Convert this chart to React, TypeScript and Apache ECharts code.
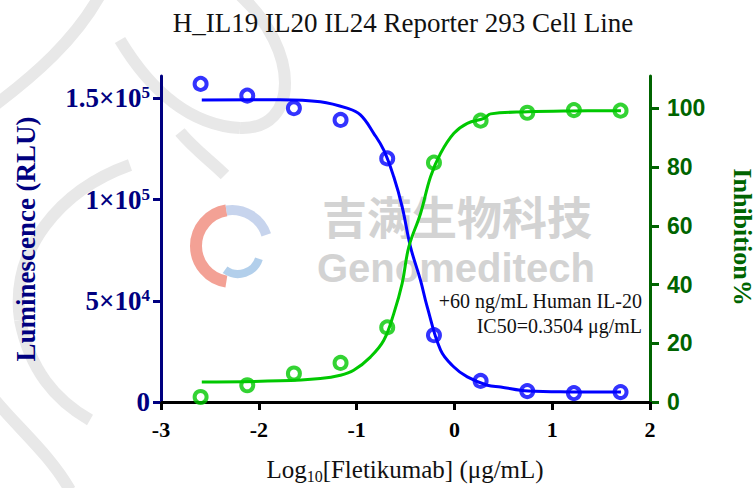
import React, { useEffect, useRef } from "react";
import * as echarts from "echarts";

// ---- data ----
const logConc = [-2.595, -2.118, -1.641, -1.164, -0.687, -0.209, 0.268, 0.745, 1.222, 1.699];
const luminescence = [157100, 151300, 145100, 139300, 120300, 33000, 10400, 5400, 4400, 4900];
const inhibition = [1.7, 5.7, 9.7, 13.3, 25.4, 81.5, 95.8, 98.5, 99.4, 99.2];

// fitted curves
const lumFitX = [-2.583, -1.781, -1.371, -1.097, -0.961, -0.825, -0.722, -0.62, -0.534, -0.449, -0.347, -0.278, -0.141, -0.005, 0.132, 0.337, 0.473, 0.757, 1.2, 1.703];
const lumFitY = [149200, 149300, 148300, 145100, 141800, 132700, 124400, 111200, 96400, 76600, 60200, 47000, 25600, 17300, 12400, 8300, 7400, 5400, 5000, 4900];
const inhFitX = [-2.583, -1.781, -1.371, -1.166, -1.03, -0.859, -0.722, -0.62, -0.534, -0.466, -0.346, -0.244, -0.141, -0.005, 0.132, 0.302, 0.371, 0.747, 1.2, 1.703];
const inhFitY = [6.8, 7.2, 8.0, 9.1, 10.8, 15.3, 21.0, 30.1, 40.4, 52.8, 64.2, 76.7, 84.7, 91.5, 94.9, 96.6, 98.1, 98.8, 99.1, 99.2];

const xTicks = [-3, -2, -1, 0, 1, 2];
const leftTickValues = [0, 50000, 100000, 150000];
const leftTickMantissa = ["0", "5", "1", "1.5"];
const leftTickExponent = ["", "4", "5", "5"];
const rightTickValues = [0, 20, 40, 60, 80, 100];

const titleText = "H_IL19 IL20 IL24 Reporter 293 Cell Line";
const noteLine1 = "+60 ng/mL Human IL-20";
const noteLine2 = "IC50=0.3504 μg/mL";

const SERIF = "'Liberation Serif', 'Times New Roman', serif";
const SANS = "'Liberation Sans', Arial, sans-serif";
const BLUE = "#0000ff";
const GREEN = "#00c800";
const NAVY = "#000080";
const DKGREEN = "#006400";
const WM = "#e8e8e8";

export default function App() {
  const ref = useRef<HTMLDivElement>(null);
  useEffect(() => {
    if (!ref.current) return;
    const chart = echarts.init(ref.current, null, { renderer: "svg" });
    const lumFit = lumFitX.map((x, i) => [x, lumFitY[i]]);
    const inhFit = inhFitX.map((x, i) => [x, inhFitY[i]]);
    const lumPts = logConc.map((x, i) => [x, luminescence[i]]);
    const inhPts = logConc.map((x, i) => [x, inhibition[i]]);

    const wmStroke = (x1: number, y1: number, cx1: number, cy1: number, cx2: number, cy2: number, x2: number, y2: number) => ({
      type: "bezierCurve",
      silent: true,
      z: -10,
      shape: { x1, y1, cpx1: cx1, cpy1: cy1, cpx2: cx2, cpy2: cy2, x2, y2 },
      style: { stroke: WM, lineWidth: 12, fill: null },
    });

    chart.setOption({
      animation: false,
      backgroundColor: "#ffffff",
      grid: { left: 161, right: 105, top: 76, bottom: 86, containLabel: false },
      xAxis: {
        type: "value",
        min: -3,
        max: 2,
        interval: 1,
        axisLine: { show: true, lineStyle: { color: "#000", width: 3 } },
        axisTick: { show: true, length: 8, lineStyle: { color: "#000", width: 3 } },
        axisLabel: {
          margin: 16,
          color: "#000",
          fontFamily: SERIF,
          fontWeight: "bold",
          fontSize: 22,
          customValues: xTicks,
        },
        splitLine: { show: false },
      },
      yAxis: [
        {
          type: "value",
          position: "left",
          min: 0,
          max: 161000,
          interval: 50000,
          axisLine: { show: true, onZero: false, lineStyle: { color: NAVY, width: 3 } },
          axisTick: { show: true, length: 8, lineStyle: { color: NAVY, width: 3 }, customValues: leftTickValues },
          axisLabel: {
            margin: 11,
            customValues: leftTickValues,
            formatter: (v: number) => {
              const i = leftTickValues.indexOf(v);
              if (i < 0) return "";
              if (!leftTickExponent[i]) return "{a|" + leftTickMantissa[i] + "}";
              return "{a|" + leftTickMantissa[i] + "×10}{s|" + leftTickExponent[i] + "}";
            },
            rich: {
              a: { fontFamily: SERIF, fontWeight: "bold", fontSize: 27, color: NAVY, lineHeight: 28 },
              s: { fontFamily: SERIF, fontWeight: "bold", fontSize: 17, color: NAVY, lineHeight: 28, verticalAlign: "top" },
            },
          },
          splitLine: { show: false },
        },
        {
          type: "value",
          position: "right",
          min: 0,
          max: 111,
          interval: 20,
          axisLine: { show: true, onZero: false, lineStyle: { color: DKGREEN, width: 3 } },
          axisTick: { show: true, length: 9, lineStyle: { color: DKGREEN, width: 3 }, customValues: rightTickValues },
          axisLabel: {
            margin: 17,
            customValues: rightTickValues,
            color: DKGREEN,
            fontFamily: SANS,
            fontWeight: "bold",
            fontSize: 23,
          },
          splitLine: { show: false },
        },
      ],
      graphic: [
        // watermark strokes
        wmStroke(100, -5, 75, 40, 35, 75, -5, 105),
        wmStroke(240, -5, 300, 50, 300, 130, 240, 128),
        wmStroke(240, 128, 190, 125, 150, 90, 120, 40),
        wmStroke(180, 132, 195, 150, 210, 160, 225, 175),
        wmStroke(130, 165, 60, 190, 10, 250, 20, 320),
        wmStroke(20, 320, 30, 370, 55, 400, 90, 420),
        wmStroke(-5, 400, 20, 430, 50, 455, 70, 490),
        // watermark logo
        {
          type: "arc", silent: true, z: -10,
          shape: { cx: 232, cy: 246, r: 36, startAngle: Math.PI * 0.55, endAngle: Math.PI * 1.45, clockwise: true },
          style: { stroke: "#f08a7a", lineWidth: 12, fill: null, opacity: 0.8 },
        },
        {
          type: "arc", silent: true, z: -10,
          shape: { cx: 232, cy: 246, r: 36, startAngle: Math.PI * 1.45, endAngle: Math.PI * 1.9, clockwise: true },
          style: { stroke: "#b9c9e8", lineWidth: 10, fill: null, opacity: 0.8 },
        },
        {
          type: "arc", silent: true, z: -10,
          shape: { cx: 238, cy: 252, r: 22, startAngle: Math.PI * 0.1, endAngle: Math.PI * 0.7, clockwise: true },
          style: { stroke: "#9fc3e6", lineWidth: 8, fill: null, opacity: 0.8 },
        },
        // watermark texts
        {
          type: "text", silent: true, z: -10, x: 322, y: 215,
          style: { text: "吉满生物科技", fill: "#d3d3d3", font: "bold 45px 'Noto Sans CJK SC'", align: "left", verticalAlign: "middle" },
        },
        {
          type: "text", silent: true, z: -10, x: 317, y: 268,
          style: { text: "Genomeditech", fill: "#d3d3d3", font: "bold 40px " + SANS, align: "left", verticalAlign: "middle" },
        },
        // title
        {
          type: "text", x: 403, y: 23,
          style: { text: titleText, fill: "#111", font: "27px " + SERIF, align: "center", verticalAlign: "middle" },
        },
        // axis names
        {
          type: "text", x: 26, y: 239, rotation: Math.PI / 2,
          style: { text: "Luminescence (RLU)", fill: NAVY, font: "bold 27px " + SERIF, align: "center", verticalAlign: "middle" },
        },
        {
          type: "text", x: 742, y: 237, rotation: -Math.PI / 2,
          style: { text: "Inhibition%", fill: DKGREEN, font: "bold 26px " + SERIF, align: "center", verticalAlign: "middle" },
        },
        {
          type: "text", x: 405, y: 469,
          style: {
            text: "{n|Log}{s|10}{n|[Fletikumab] (μg/mL)}",
            align: "center",
            verticalAlign: "middle",
            rich: {
              n: { fontFamily: SERIF, fontSize: 25, fill: "#111", lineHeight: 30 },
              s: { fontFamily: SERIF, fontSize: 16, fill: "#111", lineHeight: 30, verticalAlign: "bottom" },
            },
          },
        },
        // annotation
        {
          type: "text", x: 642, y: 301,
          style: { text: noteLine1, fill: "#111", font: "20px " + SERIF, align: "right", verticalAlign: "middle" },
        },
        {
          type: "text", x: 642, y: 326,
          style: { text: noteLine2, fill: "#111", font: "20px " + SERIF, align: "right", verticalAlign: "middle" },
        },
      ],
      series: [
        {
          name: "lumFit",
          type: "line",
          yAxisIndex: 0,
          data: lumFit,
          smooth: 0.4,
          showSymbol: false,
          lineStyle: { color: BLUE, width: 3 },
          z: 3,
        },
        {
          name: "inhFit",
          type: "line",
          yAxisIndex: 1,
          data: inhFit,
          smooth: 0.4,
          showSymbol: false,
          lineStyle: { color: GREEN, width: 3 },
          z: 3,
        },
        {
          name: "lum",
          type: "scatter",
          yAxisIndex: 0,
          data: lumPts,
          symbol: "circle",
          symbolSize: 12,
          itemStyle: { color: "rgba(255,255,255,0)", borderColor: BLUE, borderWidth: 4 },
          z: 5,
        },
        {
          name: "inh",
          type: "scatter",
          yAxisIndex: 1,
          data: inhPts,
          symbol: "circle",
          symbolSize: 12,
          itemStyle: { color: "rgba(255,255,255,0)", borderColor: GREEN, borderWidth: 4 },
          z: 5,
        },
      ],
    });
    return () => chart.dispose();
  }, []);
  return <div ref={ref} style={{ position: "fixed", left: 0, top: 0, width: 755, height: 488 }} />;
}
